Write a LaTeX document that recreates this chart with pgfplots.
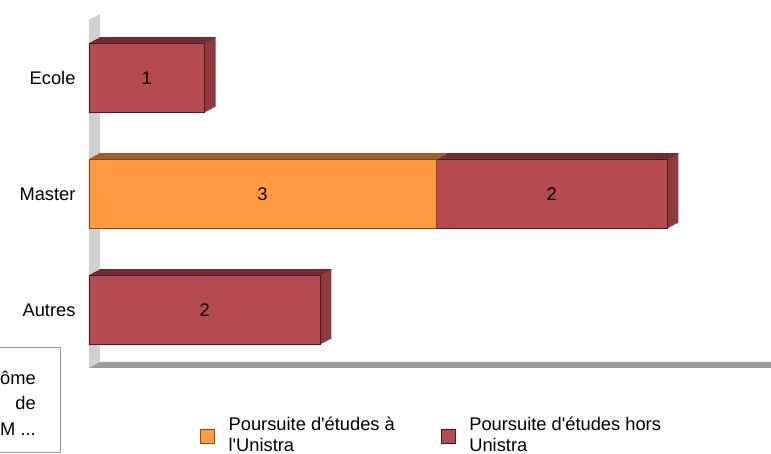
\documentclass[border=0pt]{standalone}
\usepackage{pgfplots}
\pgfplotsset{compat=1.18}
\usepackage{pgfplotstable}
\usepackage{fontspec}
\setmainfont{Liberation Sans}[Ligatures=TeXOff]

\definecolor{redfront}{HTML}{B44B50}
\definecolor{redtop}{HTML}{6E2A2E}
\definecolor{redside}{HTML}{8E3A3E}
\definecolor{redline}{HTML}{4A1A1C}
\definecolor{orfront}{HTML}{FF9A40}
\definecolor{ortop}{HTML}{A0602A}
\definecolor{orline}{HTML}{8A4A10}
\definecolor{wallc}{HTML}{D0D0D0}
\definecolor{floorc}{HTML}{9A9A9A}

\pgfplotstableread{
y orange red
0 0 2
1 3 2
2 0 1
}\data

\begin{document}
\begin{tikzpicture}[font=\fontsize{18.3}{21}\selectfont]
\clip (-89pt,-86pt) rectangle (682pt,368pt);
\begin{axis}[
  at={(0,0)}, anchor=south west,
  scale only axis, width=694pt, height=348pt,
  xmin=0, xmax=6, ymin=-0.5, ymax=2.5,
  clip=false,
  axis line style={draw=none},
  tick style={draw=none},
  xtick=\empty,
  ytick={0,1,2},
  yticklabels={Autres,Master,Ecole},
  yticklabel style={xshift=-10pt},
  /pgf/number format/assume math mode=true,
  bar width=0.6,
  legend columns=2,
  legend style={at={(axis description cs:0.16,-0.175)}, anchor=west,
    draw=none, fill=none, inner sep=0pt,
    /tikz/every odd column/.append style={column sep=12pt},
    /tikz/every even column/.append style={column sep=44pt}},
]
\fill[wallc] (rel axis cs:0,0) -- (rel axis cs:0,1) -- ([shift={(11pt,6pt)}]rel axis cs:0,1) -- ([shift={(11pt,6pt)}]rel axis cs:0,0) -- cycle;
\fill[floorc] (rel axis cs:0,0) -- (rel axis cs:1,0) -- ([shift={(11pt,6pt)}]rel axis cs:1,0) -- ([shift={(11pt,6pt)}]rel axis cs:0,0) -- cycle;

% extrusion (side colour)
\pgfplotsinvokeforeach{1,...,11}{
  \addplot[xbar, forget plot, fill=redside, draw=none, xshift=#1pt, yshift={#1*0.5455pt}]
    table[x expr=\thisrow{orange}+\thisrow{red}, y=y]{\data};
  \addplot[xbar, forget plot, fill=ortop, draw=none, xshift=#1pt, yshift={#1*0.5455pt},
    x filter/.expression={x==0 ? nan : x}]
    table[x=orange, y=y]{\data};
}
% top faces
\pgfplotsinvokeforeach{1,...,11}{
  \addplot[xbar, forget plot, fill=redtop, draw=none, bar width=0.65pt, bar shift=34.5pt,
    xshift=#1pt, yshift={#1*0.5455pt}]
    table[x expr=\thisrow{orange}+\thisrow{red}, y=y]{\data};
}
\pgfplotsinvokeforeach{1,...,11}{
  \addplot[xbar, forget plot, fill=ortop, draw=none, bar width=0.65pt, bar shift=34.5pt,
    xshift=#1pt, yshift={#1*0.5455pt}, x filter/.expression={x==0 ? nan : x}]
    table[x=orange, y=y]{\data};
}
% front faces
\addplot[xbar, forget plot, fill=redfront, draw=redline, line width=0.8pt]
  table[x expr=\thisrow{orange}+\thisrow{red}, y=y]{\data};
\addplot[xbar, forget plot, fill=orfront, draw=orline, line width=0.8pt,
  x filter/.expression={x==0 ? nan : x}]
  table[x=orange, y=y]{\data};
% value labels
\addplot[forget plot, draw=none, mark=none, nodes near coords, point meta=explicit,
  nodes near coords align=center]
  table[x expr=\thisrow{orange}+\thisrow{red}/2, y=y, meta=red]{\data};
\addplot[forget plot, draw=none, mark=none, nodes near coords, point meta=explicit,
  nodes near coords align=center, x filter/.expression={x==0 ? nan : x}]
  table[x expr=\thisrow{orange}/2, y=y, meta=orange]{\data};

\addlegendimage{legend image code/.code={\draw[fill=orfront,draw=orline] (0pt,-14pt) rectangle (14pt,0pt);}}
\addlegendentry{\begin{tabular}{@{}l@{}}Poursuite d'études à\\l'Unistra\end{tabular}}
\addlegendimage{legend image code/.code={\draw[fill=redfront,draw=redline] (0pt,-14pt) rectangle (14pt,0pt);}}
\addlegendentry{\begin{tabular}{@{}l@{}}Poursuite d'études hors\\Unistra\end{tabular}}
\end{axis}
\draw[gray!80] (-140pt,-84pt) rectangle (-29pt,21pt);
\node[anchor=east, align=right, inner sep=0pt, font=\fontsize{18.3}{25.5}\selectfont] at (-53pt,-35pt) {Diplôme\\de\\M ...};
\end{tikzpicture}
\end{document}
